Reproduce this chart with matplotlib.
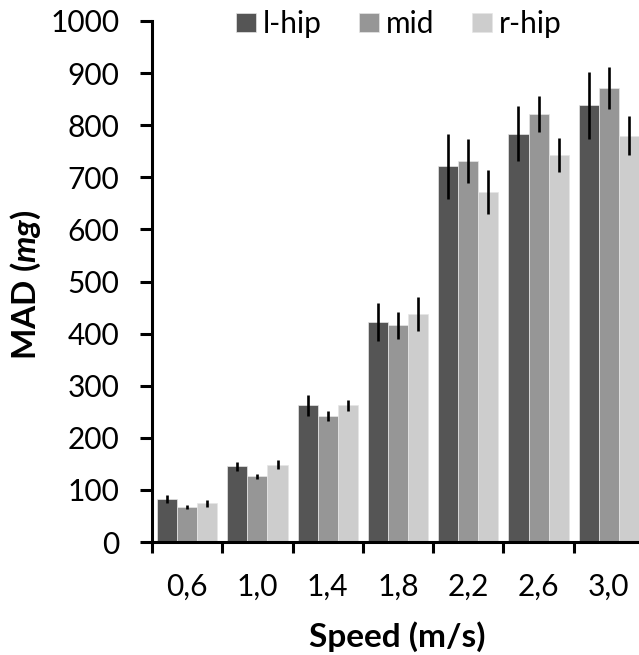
import matplotlib
matplotlib.use('Agg')
import matplotlib.pyplot as plt
import numpy as np

plt.rcParams['font.family'] = ['Lato', 'DejaVu Sans']
plt.rcParams['mathtext.fontset'] = 'custom'
plt.rcParams['mathtext.it'] = 'Lato:italic:bold'
plt.rcParams['mathtext.rm'] = 'Lato:bold'

# data
speeds = ['0,6', '1,0', '1,4', '1,8', '2,2', '2,6', '3,0']
series = ['l-hip', 'mid', 'r-hip']
lhip = [82, 145, 262, 422, 721, 784, 838]
mid = [67, 126, 242, 416, 732, 822, 872]
rhip = [74, 148, 262, 438, 672, 743, 780]
lhip_err = [8, 9, 21, 36, 63, 53, 64]
mid_err = [4.5, 5, 10, 26, 42, 35, 40]
rhip_err = [7.5, 8.5, 11, 33, 42, 33, 37]
colors = ['#555555', '#969696', '#cdcdcd']

fig = plt.figure(figsize=(6.39, 6.55), dpi=100)
ax = fig.add_axes([152 / 639, 1 - 542 / 655, 492 / 639, (542 - 21) / 655])

x = np.arange(len(speeds))
w = 1 / 3.5
vals = [lhip, mid, rhip]
errs = [lhip_err, mid_err, rhip_err]
for k in range(3):
    ax.bar(x + (k - 1) * w, vals[k], w, yerr=errs[k], color=colors[k],
           edgecolor='#e6e6e6', linewidth=0.5, label=series[k],
           error_kw=dict(elinewidth=1.9, capsize=0, ecolor='black'))

ax.set_xlim(-0.5, len(speeds) - 0.5)
ax.set_ylim(0, 1000)
ax.set_yticks(range(0, 1001, 100))
ax.set_xticks(x)
ax.set_xticklabels(speeds)
ax.set_xticks(np.arange(-0.5, len(speeds)), minor=True)

for s in ['top', 'right']:
    ax.spines[s].set_visible(False)
for s in ['left', 'bottom']:
    ax.spines[s].set_linewidth(2.2)

ax.tick_params(axis='y', direction='out', length=8.5, width=2.2, pad=15,
               labelsize=21.5)
ax.tick_params(axis='x', which='major', length=0, pad=22, labelsize=21.5)
ax.tick_params(axis='x', which='minor', direction='out', length=8, width=2.2)

fig.text(26 / 639, 1 - 285 / 655, 'MAD ($\\mathit{mg}$)', rotation=90,
         ha='center', va='center', fontsize=24, fontweight='bold')
fig.text(397 / 639, 1 - 637 / 655, 'Speed (m/s)', ha='center', va='center',
         fontsize=24, fontweight='bold')

fig.legend(loc='center', bbox_to_anchor=(399 / 639, 1 - 24 / 655), ncol=3,
           frameon=False, fontsize=21.5, handlelength=0.67, handleheight=0.6,
           handletextpad=0.23, columnspacing=1.25, borderaxespad=0,
           borderpad=0)

fig.savefig('out.png', dpi=100)
